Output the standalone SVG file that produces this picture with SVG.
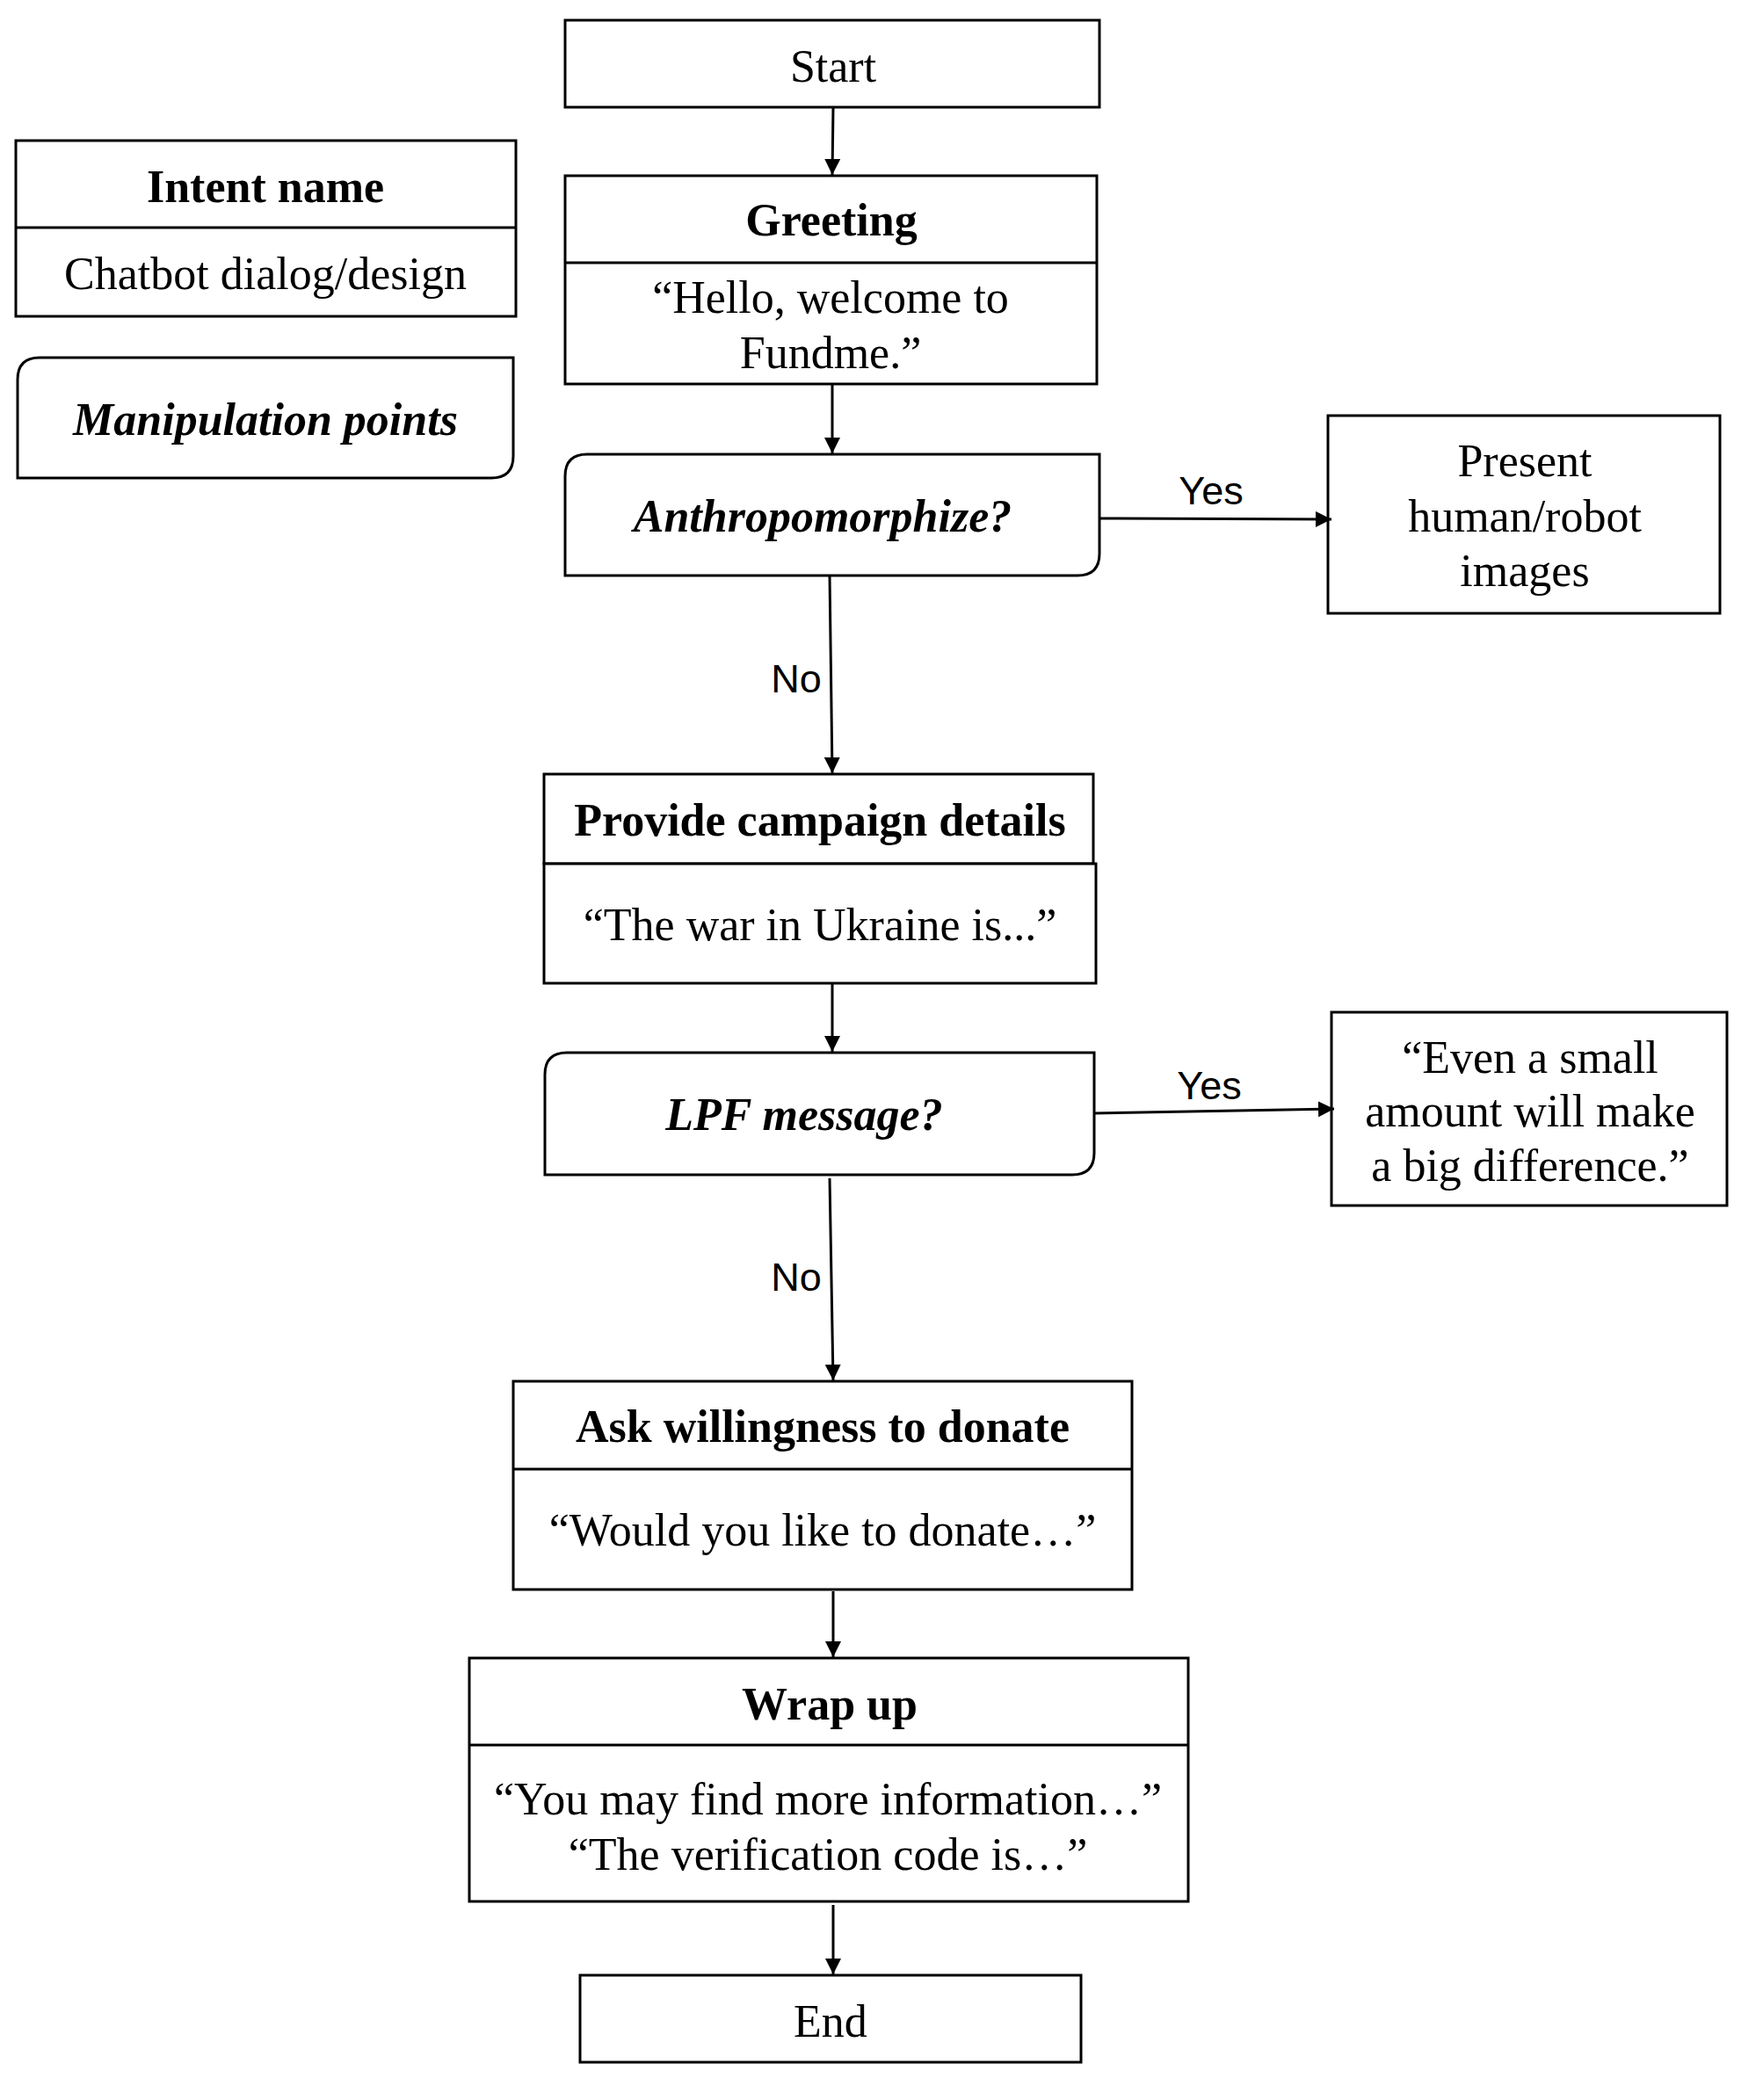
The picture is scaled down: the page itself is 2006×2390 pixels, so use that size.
<svg xmlns="http://www.w3.org/2000/svg" width="2006" height="2390" viewBox="0 0 2006 2390">
  <style>
    .box { fill: #ffffff; stroke: #000000; stroke-width: 3; }
    .div { stroke: #000000; stroke-width: 3; fill: none; }
    .t { font-family: "Liberation Serif", "Times New Roman", serif; font-size: 52px; fill: #000000; text-anchor: middle; }
    .b { font-weight: bold; }
    .i { font-style: italic; font-weight: bold; }
    .lbl { font-family: "Liberation Sans", Arial, sans-serif; font-size: 45px; fill: #000000; text-anchor: middle; }
    .edge { stroke: #000000; stroke-width: 3; fill: none; marker-end: url(#arrow); }
  </style>
  <defs>
    <marker id="arrow" viewBox="0 0 10 10" refX="10" refY="5" markerWidth="6" markerHeight="6" markerUnits="strokeWidth" orient="auto">
      <path d="M0,0 L10,5 L0,10 Z" fill="#000000"/>
    </marker>
  </defs>
  <rect width="2006" height="2390" fill="#ffffff"/>

  <!-- Legend -->
  <g id="legend-intent">
    <rect class="box" x="18" y="160" width="569" height="200"/>
    <line class="div" x1="18" y1="259" x2="587" y2="259"/>
    <text class="t b" x="302" y="230">Intent name</text>
    <text class="t" x="302" y="329">Chatbot dialog/design</text>
  </g>
  <g id="legend-manipulation">
    <path class="box" d="M45,407 H584 V519 Q584,544 559,544 H20 V432 Q20,407 45,407 Z"/>
    <text class="t i" x="302" y="495">Manipulation points</text>
  </g>

  <!-- Flow nodes -->
  <g id="start">
    <rect class="box" x="643" y="23" width="608" height="99"/>
    <text class="t" x="948" y="93">Start</text>
  </g>
  <g id="greeting">
    <rect class="box" x="643" y="200" width="605" height="237"/>
    <line class="div" x1="643" y1="299" x2="1248" y2="299"/>
    <text class="t b" x="946" y="268">Greeting</text>
    <text class="t" x="945" y="356">“Hello, welcome to</text>
    <text class="t" x="945" y="419">Fundme.”</text>
  </g>
  <g id="anthropomorphize">
    <path class="box" d="M668,517 H1251 V630 Q1251,655 1226,655 H643 V542 Q643,517 668,517 Z"/>
    <text class="t i" x="936" y="605">Anthropomorphize?</text>
  </g>
  <g id="present-images">
    <rect class="box" x="1511" y="473" width="446" height="225"/>
    <text class="t" x="1735" y="542">Present</text>
    <text class="t" x="1735" y="605">human/robot</text>
    <text class="t" x="1735" y="667">images</text>
  </g>
  <g id="campaign-details">
    <rect class="box" x="619" y="881" width="625" height="102"/>
    <rect class="box" x="619" y="983" width="628" height="136"/>
    <text class="t b" x="933" y="951">Provide campaign details</text>
    <text class="t" x="933" y="1070">“The war in Ukraine is...”</text>
  </g>
  <g id="lpf-message">
    <path class="box" d="M645,1198 H1245 V1312 Q1245,1337 1220,1337 H620 V1223 Q620,1198 645,1198 Z"/>
    <text class="t i" x="915" y="1286">LPF message?</text>
  </g>
  <g id="small-amount">
    <rect class="box" x="1515" y="1152" width="450" height="220"/>
    <text class="t" x="1741" y="1221">“Even a small</text>
    <text class="t" x="1741" y="1282">amount will make</text>
    <text class="t" x="1741" y="1344">a big difference.”</text>
  </g>
  <g id="ask-donate">
    <rect class="box" x="584" y="1572" width="704" height="237"/>
    <line class="div" x1="584" y1="1672" x2="1288" y2="1672"/>
    <text class="t b" x="936" y="1641">Ask willingness to donate</text>
    <text class="t" x="936" y="1759">“Would you like to donate…”</text>
  </g>
  <g id="wrap-up">
    <rect class="box" x="534" y="1887" width="818" height="277"/>
    <line class="div" x1="534" y1="1986" x2="1352" y2="1986"/>
    <text class="t b" x="944" y="1957">Wrap up</text>
    <text class="t" x="942" y="2065">“You may find more information…”</text>
    <text class="t" x="942" y="2128">“The verification code is…”</text>
  </g>
  <g id="end">
    <rect class="box" x="660" y="2248" width="570" height="99"/>
    <text class="t" x="945" y="2318">End</text>
  </g>

  <!-- Connectors -->
  <g id="connectors">
    <line class="edge" x1="948" y1="122" x2="947" y2="199"/>
    <line class="edge" x1="947" y1="437" x2="947" y2="516"/>
    <line class="edge" x1="944" y1="655" x2="947" y2="880"/>
    <line class="edge" x1="1251" y1="590" x2="1515" y2="591"/>
    <line class="edge" x1="947" y1="1119" x2="947" y2="1197"/>
    <line class="edge" x1="1245" y1="1267" x2="1518" y2="1262"/>
    <line class="edge" x1="944" y1="1341" x2="948" y2="1571"/>
    <line class="edge" x1="948" y1="1811" x2="948" y2="1886"/>
    <line class="edge" x1="948" y1="2168" x2="948" y2="2247"/>
    <text class="lbl" x="1378" y="574">Yes</text>
    <text class="lbl" x="906" y="788">No</text>
    <text class="lbl" x="1376" y="1251">Yes</text>
    <text class="lbl" x="906" y="1469">No</text>
  </g>
</svg>
